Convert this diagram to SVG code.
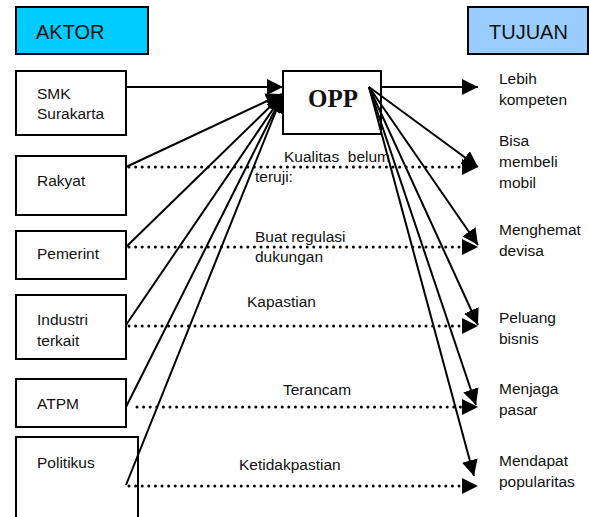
<svg xmlns="http://www.w3.org/2000/svg" width="589" height="517" viewBox="0 0 589 517">
<defs>
<marker id="ah" markerUnits="userSpaceOnUse" markerWidth="17" markerHeight="17" refX="16" refY="8" orient="auto">
<path d="M0,0 L16,8 L0,16 z" fill="#000"/>
</marker>
</defs>
<style>
.box{fill:#fff;stroke:#000;stroke-width:2}
.t{font-family:"Liberation Sans",Arial,sans-serif;font-size:15.5px;fill:#111;white-space:pre}
.h{font-family:"Liberation Sans",Arial,sans-serif;font-size:20px;fill:#111}
.solid{fill:none;stroke:#000;stroke-width:2;marker-end:url(#ah)}
.dot{fill:none;stroke:#000;stroke-width:3;stroke-linecap:round;stroke-dasharray:0 6.6;marker-end:url(#ah)}
</style>
<rect width="589" height="517" fill="#fff"/>
<g id="aktor"><rect x="16" y="7" width="132" height="47" fill="#00CCFF" stroke="#000" stroke-width="2"/><text class="h" x="36" y="39">AKTOR</text></g>
<g id="tujuan"><rect x="468" y="7" width="120" height="47" fill="#99CCFF" stroke="#000" stroke-width="2"/><text class="h" x="489" y="39">TUJUAN</text></g>
<g id="smk"><rect class="box" x="16" y="71" width="110" height="64"/><text class="t" x="37" y="99">SMK</text><text class="t" x="37" y="119">Surakarta</text></g>
<g id="rakyat"><rect class="box" x="16" y="156" width="110" height="59"/><text class="t" x="37" y="186">Rakyat</text></g>
<g id="pemerint"><rect class="box" x="16" y="231" width="110" height="48"/><text class="t" x="37" y="259">Pemerint</text></g>
<g id="industri"><rect class="box" x="16" y="295" width="110" height="64"/><text class="t" x="37" y="325">Industri</text><text class="t" x="37" y="346">terkait</text></g>
<g id="atpm"><rect class="box" x="16" y="379" width="110" height="48"/><text class="t" x="37" y="409">ATPM</text></g>
<g id="politikus"><rect class="box" x="16" y="437" width="122" height="90"/><text class="t" x="37" y="468">Politikus</text></g>
<g id="opp"><rect class="box" x="283" y="71" width="98" height="63"/><text x="333" y="107" text-anchor="middle" font-family="'Liberation Serif','Times New Roman',serif" font-weight="bold" font-size="25" fill="#111">OPP</text></g>
<g id="goals">
<text class="t" x="499" y="84">Lebih</text><text class="t" x="499" y="105">kompeten</text>
<text class="t" x="499" y="146">Bisa</text><text class="t" x="499" y="167">membeli</text><text class="t" x="499" y="188">mobil</text>
<text class="t" x="499" y="235">Menghemat</text><text class="t" x="499" y="256">devisa</text>
<text class="t" x="499" y="323">Peluang</text><text class="t" x="499" y="344">bisnis</text>
<text class="t" x="499" y="394">Menjaga</text><text class="t" x="499" y="415">pasar</text>
<text class="t" x="499" y="466">Mendapat</text><text class="t" x="499" y="487">popularitas</text>
</g>
<g id="connectors">
<line class="solid" x1="126" y1="87" x2="283" y2="87"/>
<line class="solid" x1="126" y1="167" x2="282" y2="94"/>
<line class="solid" x1="126" y1="247" x2="282" y2="95"/>
<line class="solid" x1="126" y1="325" x2="282" y2="96"/>
<line class="solid" x1="126" y1="407" x2="282" y2="96"/>
<line class="solid" x1="126" y1="485" x2="282" y2="96"/>
<line class="solid" x1="382" y1="87" x2="478" y2="87"/>
<line class="solid" x1="369" y1="87" x2="478" y2="167"/>
<line class="solid" x1="369" y1="87" x2="478" y2="245"/>
<line class="solid" x1="369" y1="87" x2="478" y2="325"/>
<line class="solid" x1="369" y1="87" x2="476" y2="405"/>
<line class="solid" x1="369" y1="87" x2="474" y2="476"/>
<line class="dot" x1="129" y1="167" x2="478" y2="167"/>
<line class="dot" x1="129" y1="247" x2="478" y2="247"/>
<line class="dot" x1="129" y1="326" x2="478" y2="326"/>
<line class="dot" x1="137" y1="407" x2="478" y2="407"/>
<line class="dot" x1="129" y1="486" x2="478" y2="486"/>
</g>
<g id="labels">
<text class="t" x="284" y="162">Kualitas  belum</text>
<text class="t" x="255" y="182">teruji:</text>
<text class="t" x="255" y="242">Buat regulasi</text>
<text class="t" x="255" y="262">dukungan</text>
<text class="t" x="247" y="307">Kapastian</text>
<text class="t" x="283" y="395">Terancam</text>
<text class="t" x="239" y="470">Ketidakpastian</text>
</g>
</svg>
